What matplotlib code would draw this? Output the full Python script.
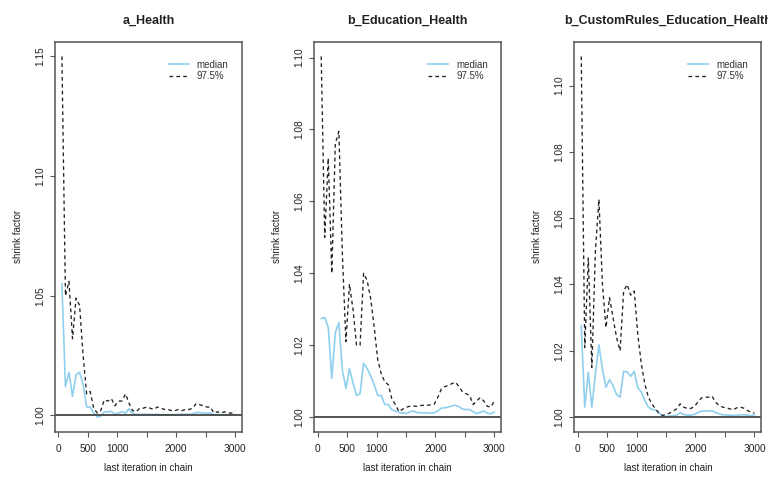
import numpy as np
import matplotlib
matplotlib.use("Agg")
import matplotlib.pyplot as plt

plt.rcParams['font.family'] = ['Liberation Sans', 'DejaVu Sans']

# last iteration of each bin (gelman.plot style, 50 bins)
iterations = np.arange(60, 3001, 60)

titles = ["a_Health", "b_Education_Health", "b_CustomRules_Education_Health"]

a_median = [1.055, 1.012, 1.018, 1.008, 1.017, 1.018, 1.013, 1.0035, 1.0035, 1.001,
            0.9993, 0.9997, 1.0015, 1.0015, 1.0017, 1.0005, 1.001, 1.0015, 1.001, 1.0028,
            1.0008, 1.0004, 1.0004, 1.0005, 1.0005, 1.0004, 1.0004, 1.0005, 1.0003, 1.0003,
            1.0003, 1.0003, 1.0003, 1.0004, 1.0004, 1.0005, 1.0005, 1.0006, 1.0012, 1.0012,
            1.001, 1.001, 1.001, 1.0003, 1.0003, 1.0003, 1.0003, 1.0003, 1.0003, 1.0004]
a_upper = [1.150, 1.050, 1.056, 1.032, 1.049, 1.046, 1.025, 1.009, 1.010, 1.003,
           1.001, 1.002, 1.0065, 1.006, 1.007, 1.004, 1.006, 1.006, 1.009, 1.005,
           1.002, 1.0015, 1.003, 1.003, 1.0035, 1.003, 1.0025, 1.0035, 1.003, 1.0025,
           1.0025, 1.002, 1.002, 1.0025, 1.002, 1.0025, 1.0025, 1.003, 1.005, 1.0045,
           1.004, 1.0035, 1.0035, 1.001, 1.0015, 1.001, 1.0015, 1.001, 1.001, 1.002]

b_median = [1.0274, 1.0277, 1.025, 1.0108, 1.0235, 1.0263, 1.013, 1.008, 1.0135, 1.0095,
            1.006, 1.0065, 1.015, 1.0135, 1.0115, 1.009, 1.006, 1.006, 1.0035, 1.0035,
            1.002, 1.0017, 1.0013, 1.0011, 1.001, 1.0014, 1.0017, 1.0013, 1.0012, 1.0012,
            1.0012, 1.0011, 1.0012, 1.0017, 1.0025, 1.0026, 1.0028, 1.0031, 1.0033, 1.0029,
            1.0022, 1.0021, 1.0021, 1.0015, 1.001, 1.0013, 1.0017, 1.0011, 1.0009, 1.0014]
b_upper = [1.1003, 1.050, 1.072, 1.040, 1.076, 1.0795, 1.045, 1.021, 1.037, 1.030,
           1.020, 1.020, 1.040, 1.038, 1.033, 1.025, 1.016, 1.012, 1.0098, 1.009,
           1.005, 1.0035, 1.0015, 1.0022, 1.0027, 1.003, 1.0031, 1.003, 1.0032, 1.0033,
           1.0033, 1.0034, 1.0036, 1.0055, 1.0078, 1.0085, 1.0088, 1.0093, 1.0097, 1.0085,
           1.007, 1.0065, 1.006, 1.0035, 1.0045, 1.0054, 1.0045, 1.003, 1.0028, 1.0045]

c_median = [1.0275, 1.003, 1.0135, 1.003, 1.013, 1.0218, 1.0145, 1.009, 1.0113, 1.0095,
            1.0068, 1.006, 1.0138, 1.0136, 1.0123, 1.0138, 1.0088, 1.0076, 1.005, 1.003,
            1.0023, 1.0021, 1.0012, 1.0004, 1.0002, 1.0003, 1.0004, 1.0006, 1.0013, 1.0008,
            1.0006, 1.0006, 1.0008, 1.0014, 1.0018, 1.0018, 1.0018, 1.0019, 1.0014, 1.001,
            1.0007, 1.0006, 1.0006, 1.0005, 1.0005, 1.0007, 1.0007, 1.0006, 1.0004, 1.0007]
c_upper = [1.1088, 1.021, 1.048, 1.015, 1.050, 1.0657, 1.040, 1.027, 1.036, 1.030,
           1.024, 1.020, 1.038, 1.040, 1.0368, 1.038, 1.025, 1.016, 1.010, 1.006,
           1.004, 1.0025, 1.0012, 1.0005, 1.0008, 1.0012, 1.0018, 1.0025, 1.004, 1.003,
           1.0026, 1.0026, 1.0032, 1.0045, 1.0058, 1.006, 1.006, 1.0063, 1.0045, 1.0035,
           1.003, 1.0028, 1.0025, 1.0022, 1.0028, 1.003, 1.0027, 1.002, 1.0015, 1.0012]

medians = [a_median, b_median, c_median]
uppers = [a_upper, b_upper, c_upper]
y_ticks = [[1.00, 1.05, 1.10, 1.15],
           [1.00, 1.02, 1.04, 1.06, 1.08, 1.10],
           [1.00, 1.02, 1.04, 1.06, 1.08, 1.10]]
x_ticks = [0, 500, 1000, 1500, 2000, 2500, 3000]
x_ticklabels = ["0", "500", "1000", "", "2000", "", "3000"]

med_col = '#8fd0ee'
box_col = '#555555'

fig = plt.figure(figsize=(7.68, 4.8), dpi=100)
lefts = [0.0716, 0.4092, 0.7478]

for k in range(3):
    ax = fig.add_axes([lefts[k], 0.101, 0.2435, 0.8115])
    med = np.array(medians[k])
    upp = np.array(uppers[k])

    ax.plot(iterations, med, color=med_col, lw=1.2, label="median")
    ax.plot(iterations, upp, color='#222222', lw=0.95, linestyle=(0, (2.8, 2.4)), label="97.5%")
    ax.axhline(1.0, color='#444444', lw=1.3)

    # R style 4% padding, ylim always includes 1
    lo = min(1.0, med.min(), upp.min())
    hi = max(med.max(), upp.max())
    ax.set_ylim(lo - 0.04 * (hi - lo), hi + 0.04 * (hi - lo))
    x0, x1 = iterations.min(), iterations.max()
    ax.set_xlim(x0 - 0.04 * (x1 - x0), x1 + 0.04 * (x1 - x0))

    ax.set_xticks(x_ticks)
    ax.set_xticklabels(x_ticklabels)
    ax.set_yticks(y_ticks[k])
    ax.set_yticklabels(["%.2f" % v for v in y_ticks[k]], rotation=90, va='center')
    ax.tick_params(axis='both', direction='out', length=3.6, width=0.8,
                   color=box_col, labelsize=7.3, labelcolor='#222222')
    ax.tick_params(axis='x', pad=5.2)
    ax.tick_params(axis='y', pad=3.5)
    for s in ax.spines.values():
        s.set_color(box_col)
        s.set_linewidth(1.1)

    ax.set_title(titles[k], fontsize=9, fontweight='bold', pad=13.3, color='#222222')
    ax.set_xlabel("last iteration in chain", fontsize=7, labelpad=6.5, color='#222222')
    ax.set_ylabel("shrink factor", fontsize=7, labelpad=8.7, color='#222222')

    ax.legend(loc='upper left', bbox_to_anchor=(0.61, 0.955), frameon=False,
              fontsize=7, borderpad=0, borderaxespad=0, handlelength=2.0,
              handletextpad=0.86, labelspacing=0.15, labelcolor='#333333')

fig.savefig("out.png", dpi=100)
